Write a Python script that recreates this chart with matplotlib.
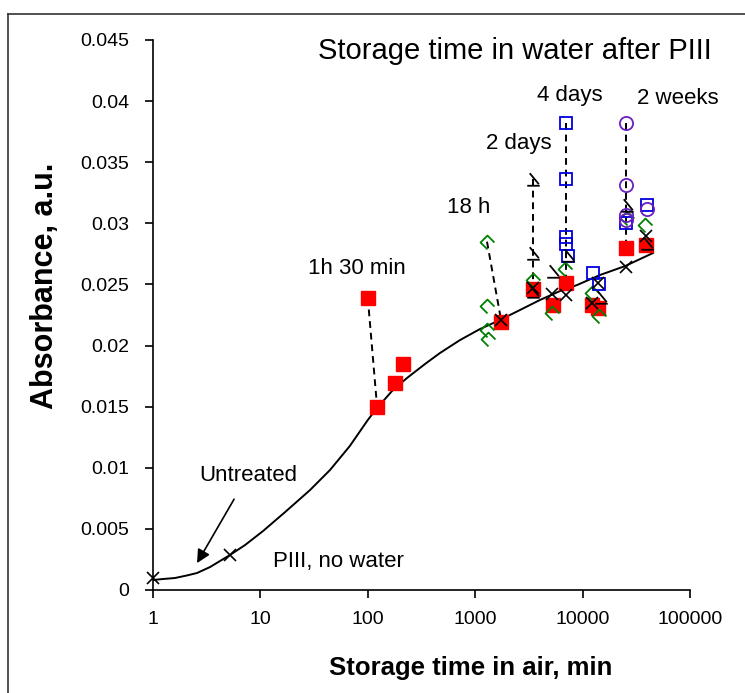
import matplotlib
matplotlib.use('Agg')
import matplotlib.pyplot as plt
from matplotlib.path import Path
from matplotlib.lines import Line2D
from matplotlib.ticker import FuncFormatter, FixedLocator, NullLocator

plt.rcParams['font.family'] = ['Liberation Sans', 'DejaVu Sans']

# PIII, no water (black crosses)
cross_x = [1, 5.2, 1740, 3450, 5190, 7000, 12300, 13900, 25350, 38900]
cross_y = [0.00098, 0.0029, 0.0221, 0.0247, 0.0242, 0.0241, 0.0235, 0.0251, 0.0264, 0.0290]

# fitted trend through the no-water points
fit_x = [1, 1.24, 1.6, 2.07, 2.57, 3.4, 4.2, 5.2, 7.2, 10.6, 17, 29, 44.5, 68, 100,
         122, 168, 232, 341, 470, 722, 1108, 1700, 2613, 4010, 6160, 8870, 14500, 24800, 45200]
fit_y = [0.00082, 0.0009, 0.00098, 0.00119, 0.00139, 0.00188, 0.00237, 0.00286, 0.00368,
         0.00483, 0.00638, 0.00818, 0.00982, 0.01178, 0.01391, 0.01489, 0.01628, 0.01735,
         0.01849, 0.01939, 0.02045, 0.02135, 0.02209, 0.02291, 0.02373, 0.02446, 0.02495,
         0.02577, 0.02650, 0.02757]

# 1h 30 min in water (red squares)
red_x = [100, 122, 179, 213, 1740, 3450, 5300, 7000, 12300, 13900, 25350, 38900]
red_y = [0.0239, 0.0150, 0.0169, 0.0185, 0.0219, 0.0246, 0.0233, 0.0251, 0.0233, 0.0231, 0.0280, 0.0282]

# 18 h in water (green)
green_x = [1288, 1288, 1300, 1310, 3450, 6860, 5190, 12240, 14140, 25900, 38100]
green_y = [0.0285, 0.0232, 0.0213, 0.0205, 0.0254, 0.0263, 0.0227, 0.0243, 0.0224, 0.0304, 0.0299]

# 2 days in water (black)
tri_x = [3450, 3450, 5300, 7310, 3450, 14800, 25900, 39800]
tri_y = [0.0336, 0.0276, 0.0261, 0.0274, 0.0245, 0.0240, 0.0315, 0.0284]

# 4 days in water (blue squares)
blue_x = [7000, 7000, 7000, 7000, 7310, 12500, 14100, 25350, 39800]
blue_y = [0.0382, 0.0336, 0.0289, 0.0283, 0.0273, 0.0259, 0.0250, 0.0300, 0.0315]

# 2 weeks in water (purple circles)
purple_x = [25350, 25350, 25350, 25350, 39800]
purple_y = [0.0382, 0.0331, 0.0307, 0.0303, 0.0312]

# dashed links: first point after water -> aged point
links = [
    ([100, 122], [0.0239, 0.0150]),
    ([1288, 1740], [0.0285, 0.0221]),
    ([3450, 3450], [0.0336, 0.0247]),
    ([7000, 7000], [0.0382, 0.0251]),
    ([25350, 25350], [0.0382, 0.0280]),
]

x_ticks = [1, 10, 100, 1000, 10000, 100000]
y_ticks = [0, 0.005, 0.01, 0.015, 0.02, 0.025, 0.03, 0.035, 0.04, 0.045]

green_mark = Path([(1, 0), (0, 1), (-1, 0), (0, -1)],
                  [Path.MOVETO, Path.LINETO, Path.LINETO, Path.LINETO])
tri_mark = Path([(-0.6, 1), (0.85, -0.75), (-1, -1), (1, -1)],
                [Path.MOVETO, Path.LINETO, Path.MOVETO, Path.LINETO])

fig = plt.figure(figsize=(7.45, 6.93), dpi=100)
ax = fig.add_axes([153 / 745, 103 / 693, 537 / 745, 550 / 693])

for lx, ly in links:
    ax.plot(lx, ly, color='black', lw=1.4, ls=(0, (3.5, 2.5)), zorder=2)

ax.plot(fit_x, fit_y, color='black', lw=1.4, zorder=2)

ax.plot(red_x, red_y, ls='none', marker='s', ms=9.5, mfc='#ff0000', mec='#ff0000', zorder=3)
ax.plot(green_x, green_y, ls='none', marker=green_mark, ms=10, mfc='none', mec='#008000', mew=1.3, zorder=4)
ax.plot(blue_x, blue_y, ls='none', marker='s', ms=9, mfc='none', mec='#0000dd', mew=1.3, zorder=4)
ax.plot(purple_x, purple_y, ls='none', marker='o', ms=9.5, mfc='none', mec='#6a1fc0', mew=1.3, zorder=4)
ax.plot(tri_x, tri_y, ls='none', marker=tri_mark, ms=9, mfc='none', mec='black', mew=1.3, zorder=4)
ax.plot(cross_x, cross_y, ls='none', marker='x', ms=9, mec='black', mew=1.2, zorder=5, clip_on=False)

ax.set_xscale('log')
ax.set_xlim(1, 100000)
ax.set_ylim(0, 0.045)
ax.xaxis.set_major_locator(FixedLocator(x_ticks))
ax.xaxis.set_minor_locator(NullLocator())
ax.xaxis.set_major_formatter(FuncFormatter(lambda v, p: '%d' % v))
ax.set_yticks(y_ticks)
ax.yaxis.set_major_formatter(FuncFormatter(lambda v, p: '%g' % v))
ax.tick_params(axis='both', direction='out', length=6, width=1.2, labelsize=14)
ax.tick_params(axis='x', pad=9)
ax.tick_params(axis='y', pad=11)
for s in ['top', 'right']:
    ax.spines[s].set_visible(False)
for s in ['left', 'bottom']:
    ax.spines[s].set_linewidth(1.2)

ax.text(0.674, 0.98, 'Storage time in water after PIII', transform=ax.transAxes,
        ha='center', va='center', fontsize=21)
ax.text(79, 0.0263, '1h 30 min', ha='center', va='center', fontsize=16)
ax.text(875, 0.0313, '18 h', ha='center', va='center', fontsize=16)
ax.text(2560, 0.0365, '2 days', ha='center', va='center', fontsize=16)
ax.text(7640, 0.0405, '4 days', ha='center', va='center', fontsize=16)
ax.text(77300, 0.0402, '2 weeks', ha='center', va='center', fontsize=16)
ax.text(52.8, 0.0023, 'PIII, no water', ha='center', va='center', fontsize=16)
ax.annotate('Untreated', xy=(2.57, 0.0022), xytext=(7.67, 0.0094),
            ha='center', va='center', fontsize=16,
            arrowprops=dict(arrowstyle='-|>', color='black', lw=1.2,
                            mutation_scale=20, shrinkA=9, shrinkB=0))

fig.text(471 / 745, 1 - 668 / 693, 'Storage time in air, min', ha='center', va='center',
         fontsize=18.5, fontweight='bold')
fig.text(45 / 745, 1 - 286 / 693, 'Absorbance, a.u.', ha='center', va='center',
         rotation=90, fontsize=22, fontweight='bold')

# outer chart frame (only left and top edges are inside the picture)
fig.add_artist(Line2D([8 / 745, 8 / 745], [0, 1 - 14 / 693], color='#333333', lw=1.2))
fig.add_artist(Line2D([8 / 745, 1], [1 - 14 / 693, 1 - 14 / 693], color='#333333', lw=1.2))

fig.savefig('out.png', dpi=100)
